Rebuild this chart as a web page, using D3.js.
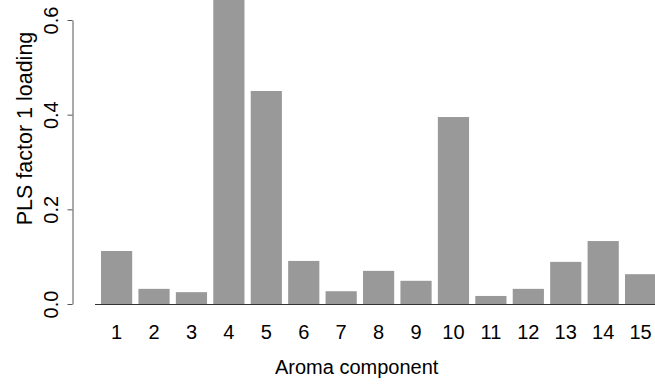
<!DOCTYPE html>
<html>
<head>
<meta charset="utf-8">
<script src="https://cdn.jsdelivr.net/npm/d3@7"></script>
<style>
  body { margin: 0; background: #fff; }
  svg { display: block; font-family: "Liberation Sans", Arial, sans-serif; }
</style>
</head>
<body>
<div id="chart"></div>
<script>
// aroma components and their PLS factor 1 loadings
const components = ["1", "2", "3", "4", "5", "6", "7", "8", "9", "10", "11", "12", "13", "14", "15"];
const loadings = [0.112, 0.032, 0.025, 0.66, 0.450, 0.091, 0.027, 0.070, 0.049, 0.395, 0.017, 0.032, 0.089, 0.133, 0.063];
const yTicks = [0.0, 0.2, 0.4, 0.6];

const data = components.map((c, i) => ({ comp: c, value: loadings[i] }));

const fullWidth = 655, fullHeight = 387;

let svg = d3.select("#chart")
    .append("svg")
    .attr("width", fullWidth)
    .attr("height", fullHeight);

let x = d3.scaleBand()
    .domain(components)
    .range([101, 656.2])
    .paddingInner(1 / 6)
    .paddingOuter(0);

let y = d3.scaleLinear()
    .domain([0, 0.6])
    .range([304, 20]);

// bars
svg.selectAll(".bar")
    .data(data)
    .enter()
    .append("rect")
    .attr("class", "bar")
    .attr("x", d => x(d.comp))
    .attr("y", d => y(d.value))
    .attr("width", x.bandwidth())
    .attr("height", d => y(0) - y(d.value))
    .attr("fill", "#999999");

// baseline under the bars
svg.append("line")
    .attr("x1", 95)
    .attr("x2", fullWidth)
    .attr("y1", y(0) + 0.5)
    .attr("y2", y(0) + 0.5)
    .attr("stroke", "#333")
    .attr("stroke-width", 1);

// y axis
let yAxis = svg.append("g")
    .attr("transform", "translate(72.5,0)")
    .call(d3.axisLeft(y)
        .tickValues(yTicks)
        .tickFormat(d3.format(".1f"))
        .tickSize(5)
        .tickSizeOuter(0)
        .tickPadding(0));

yAxis.select(".domain").attr("stroke", "#555");
yAxis.selectAll(".tick line").attr("stroke", "#555");
yAxis.selectAll(".tick text").remove();

yAxis.selectAll(".tick")
    .append("text")
    .attr("transform", "translate(-15,0) rotate(-90)")
    .attr("text-anchor", "middle")
    .attr("fill", "#000")
    .style("font-size", "20px")
    .style("font-family", "Liberation Sans, Arial, sans-serif")
    .text(d => d3.format(".1f")(d));

// x labels (no tick marks)
svg.selectAll(".xlabel")
    .data(components)
    .enter()
    .append("text")
    .attr("class", "xlabel")
    .attr("x", d => x(d) + x.bandwidth() / 2)
    .attr("y", 339)
    .attr("text-anchor", "middle")
    .style("font-size", "20px")
    .text(d => d);

// axis titles
svg.append("text")
    .attr("x", 356.7)
    .attr("y", 374)
    .attr("text-anchor", "middle")
    .style("font-size", "20px")
    .text("Aroma component");

svg.append("text")
    .attr("transform", "translate(31.5,128.5) rotate(-90)")
    .attr("text-anchor", "middle")
    .style("font-size", "21.5px")
    .text("PLS factor 1 loading");
</script>
</body>
</html>
